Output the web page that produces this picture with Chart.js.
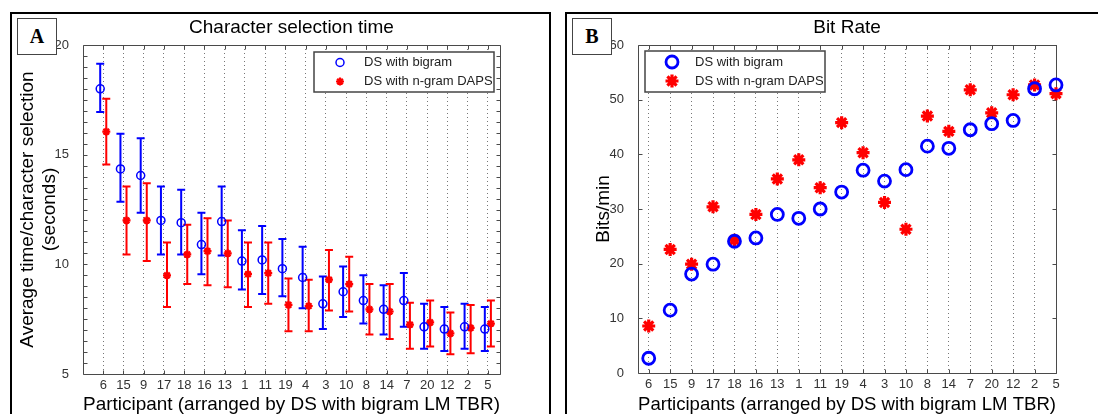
<!DOCTYPE html>
<html>
<head>
<meta charset="utf-8">
<script src="https://cdn.jsdelivr.net/npm/chart.js@4/dist/chart.umd.min.js"></script>
<style>
  body { margin: 0; background: #fff; width: 1098px; height: 414px; overflow: hidden; position: relative;
         font-family: "Liberation Sans", Arial, sans-serif; }
  .frame { position: absolute; border: 2px solid #000; box-sizing: border-box; }
  .tag { position: absolute; border: 1px solid #444; box-sizing: border-box; background: #fff;
         font: bold 20px "Liberation Serif", "Times New Roman", serif; display: flex;
         align-items: center; justify-content: center; z-index: 2; }
  .title { position: absolute; top: 16px; font-size: 19px; line-height: 22px; text-align: center; color: #000; z-index: 2; }
  canvas { position: absolute; top: 0; z-index: 1; }
</style>
</head>
<body>
<div class="frame" style="left:10px; top:12px; width:541px; height:430px;"></div>
<div class="frame" style="left:565px; top:12px; width:560px; height:430px;"></div>
<div class="tag" style="left:17px; top:18px; width:40px; height:37px;">A</div>
<div class="tag" style="left:572px; top:18px; width:40px; height:37px;">B</div>
<div class="title" style="left:83px; width:417px;">Character selection time</div>
<div class="title" style="left:638px; width:418px;">Bit Rate</div>
<canvas id="timeChart" width="550" height="420" style="left:0;"></canvas>
<canvas id="rateChart" width="548" height="420" style="left:550px;"></canvas>
<script>
// participants, ordered by DS with bigram LM TBR
const participants = ['6', '15', '9', '17', '18', '16', '13', '1', '11', '19', '4', '3', '10', '8', '14', '7', '20', '12', '2', '5'];

// panel A: character selection time (seconds), mean with error bar limits
const bigramTime     = [18.0, 14.35, 14.05, 12.0, 11.9, 10.9, 11.95, 10.15, 10.2, 9.8, 9.4, 8.2, 8.75, 8.35, 7.95, 8.35, 7.15, 7.05, 7.15, 7.05];
const bigramTimeLow  = [16.95, 12.85, 12.35, 10.45, 10.45, 9.55, 10.4, 8.85, 8.65, 8.55, 8.0, 7.05, 7.6, 7.3, 6.8, 7.15, 6.15, 6.05, 6.15, 6.05];
const bigramTimeHigh = [19.15, 15.95, 15.75, 13.55, 13.4, 12.35, 13.55, 11.55, 11.75, 11.15, 10.8, 9.45, 9.9, 9.5, 9.05, 9.6, 8.2, 8.05, 8.2, 8.05];
const dapsTime       = [16.05, 12.0, 12.0, 9.5, 10.45, 10.6, 10.5, 9.55, 9.6, 8.15, 8.1, 9.3, 9.1, 7.95, 7.85, 7.25, 7.35, 6.85, 7.1, 7.3];
const dapsTimeLow    = [14.55, 10.45, 10.15, 8.05, 9.1, 9.05, 8.95, 8.05, 8.2, 6.95, 6.95, 7.9, 7.85, 6.8, 6.6, 6.15, 6.25, 5.9, 5.95, 6.25];
const dapsTimeHigh   = [17.55, 13.55, 13.7, 11.0, 11.8, 12.1, 12.0, 11.0, 11.0, 9.35, 9.3, 10.65, 10.35, 9.1, 9.1, 8.25, 8.35, 7.8, 8.15, 8.35];

// panel B: bit rate (bits/min)
const bigramRate = [2.7, 11.5, 18.1, 19.9, 24.1, 24.7, 29.0, 28.3, 30.0, 33.1, 37.1, 35.1, 37.2, 41.5, 41.1, 44.5, 45.6, 46.2, 52.0, 52.7];
const dapsRate   = [8.6, 22.6, 19.9, 30.4, 24.3, 29.0, 35.5, 39.0, 33.9, 45.8, 40.3, 31.2, 26.3, 47.0, 44.2, 51.8, 47.6, 50.9, 52.7, 51.1];

const seriesNames = ['DS with bigram', 'DS with n-gram DAPS'];
const yTicksTime = [5, 10, 15, 20];
const yTicksRate = [0, 10, 20, 30, 40, 50, 60];

const BLUE = '#0000ff', RED = '#ff0000';
const FONT = '"Liberation Sans", Arial, sans-serif';

function drawMarker(ctx, style, x, y, r, w, color) {
  ctx.save();
  ctx.strokeStyle = color;
  ctx.lineWidth = w;
  ctx.beginPath();
  if (style === 'circle') {
    ctx.arc(x, y, r, 0, Math.PI * 2);
  } else {
    for (let k = 0; k < 4; k++) {
      const a = k * Math.PI / 4;
      ctx.moveTo(x - r * Math.cos(a), y - r * Math.sin(a));
      ctx.lineTo(x + r * Math.cos(a), y + r * Math.sin(a));
    }
  }
  ctx.stroke();
  ctx.restore();
}

// box round the plot with inward ticks, like the original
const frame = {
  id: 'frame',
  beforeDatasetsDraw(chart, args, opts) {
    const {ctx, chartArea: a, scales: {x, y}} = chart;
    const L = Math.round(a.left) + 0.5, R = Math.round(a.right) + 0.5;
    const T = Math.round(a.top) + 0.5, B = Math.round(a.bottom) + 0.5;
    ctx.save();
    ctx.strokeStyle = '#4a4a4a';
    ctx.lineWidth = 1;
    ctx.beginPath();
    ctx.rect(L, T, R - L, B - T);
    x.ticks.forEach(t => {
      const px = Math.round(x.getPixelForValue(t.value)) + 0.5;
      ctx.moveTo(px, B); ctx.lineTo(px, B - 4);
      ctx.moveTo(px, T); ctx.lineTo(px, T + 4);
    });
    for (let v = y.min; v <= y.max + 1e-9; v += opts.yStep) {
      const py = Math.round(y.getPixelForValue(v)) + 0.5;
      ctx.moveTo(L, py); ctx.lineTo(L + 4, py);
      ctx.moveTo(R, py); ctx.lineTo(R - 4, py);
    }
    ctx.stroke();
    ctx.restore();
  }
};

const errorBars = {
  id: 'errorBars',
  beforeDatasetsDraw(chart, args, opts) {
    if (!opts.series) return;
    const {ctx, scales: {x, y}} = chart;
    ctx.save();
    ctx.lineWidth = 2;
    opts.series.forEach(s => {
      ctx.strokeStyle = s.color;
      ctx.beginPath();
      s.low.forEach((lo, i) => {
        const px = x.getPixelForValue(i + 1 + s.offset);
        const y0 = y.getPixelForValue(lo), y1 = y.getPixelForValue(s.high[i]);
        ctx.moveTo(px, y0); ctx.lineTo(px, y1);
        ctx.moveTo(px - opts.cap, y0); ctx.lineTo(px + opts.cap, y0);
        ctx.moveTo(px - opts.cap, y1); ctx.lineTo(px + opts.cap, y1);
      });
      ctx.stroke();
    });
    ctx.restore();
  }
};

const boxLegend = {
  id: 'boxLegend',
  afterDraw(chart, args, o) {
    const ctx = chart.ctx;
    ctx.save();
    ctx.fillStyle = '#fff';
    ctx.fillRect(o.x, o.y, o.w, o.h);
    ctx.strokeStyle = '#444';
    ctx.lineWidth = 1.5;
    ctx.strokeRect(o.x, o.y, o.w, o.h);
    ctx.font = '13px ' + FONT;
    ctx.textBaseline = 'middle';
    chart.data.datasets.forEach((ds, i) => {
      const cy = o.y + o.rowTop + i * o.rowGap;
      drawMarker(ctx, ds.pointStyle, o.x + o.markerX, cy, ds.pointRadius, ds.borderWidth, ds.borderColor);
      ctx.fillStyle = '#222';
      ctx.fillText(ds.label, o.x + o.textX, cy);
    });
    ctx.restore();
  }
};

function categoryAxis(min, max, fitHeight, title, titlePad) {
  return {
    type: 'linear', min: min, max: max,
    afterBuildTicks: axis => { axis.ticks = participants.map((p, i) => ({ value: i + 1 })); },
    afterFit: s => { s.height = fitHeight; },
    ticks: { callback: (v, i) => participants[i], autoSkip: false, maxRotation: 0,
             color: '#333', padding: 4, font: { family: FONT, size: 13 } },
    grid: { color: '#777', lineWidth: 1, drawTicks: false },
    border: { display: false, dash: [1, 3] },
    title: { display: true, text: title, color: '#000', padding: { top: 0, bottom: titlePad },
             font: { family: FONT, size: 19, lineHeight: 1.15 } }
  };
}

function valueAxis(min, max, tickValues, fitWidth, title) {
  return {
    min: min, max: max,
    afterBuildTicks: axis => { axis.ticks = tickValues.map(v => ({ value: v })); },
    afterFit: s => { s.width = fitWidth; },
    ticks: { color: '#333', padding: 6, font: { family: FONT, size: 13 } },
    grid: { display: false },
    border: { display: false },
    title: { display: true, text: title, color: '#000', padding: 0,
             font: { family: FONT, size: 19, lineHeight: 1.15 } }
  };
}

const offset = 0.15;

new Chart(document.getElementById('timeChart'), {
  type: 'scatter',
  data: {
    datasets: [
      { label: seriesNames[0], data: bigramTime.map((v, i) => ({ x: i + 1 - offset, y: v })),
        pointStyle: 'circle', pointRadius: 4, borderWidth: 1.5, borderColor: BLUE, backgroundColor: 'rgba(0,0,0,0)', clip: false },
      { label: seriesNames[1], data: dapsTime.map((v, i) => ({ x: i + 1 + offset, y: v })),
        pointStyle: 'star', pointRadius: 4, borderWidth: 2.2, borderColor: RED, backgroundColor: RED, clip: false }
    ]
  },
  options: {
    responsive: false, animation: false, devicePixelRatio: 1, events: [],
    layout: { padding: { left: 17, top: 45, right: 50, bottom: 0 } },
    scales: {
      x: categoryAxis(0, 20.6, 46, 'Participant (arranged by DS with bigram LM TBR)', 4),
      y: valueAxis(5, 20, yTicksTime, 66, ['Average time/character selection', '(seconds)'])
    },
    plugins: {
      legend: { display: false }, tooltip: { enabled: false },
      frame: { yStep: 0.5 },
      errorBars: { cap: 4, series: [
        { color: BLUE, offset: -offset, low: bigramTimeLow, high: bigramTimeHigh },
        { color: RED, offset: offset, low: dapsTimeLow, high: dapsTimeHigh }
      ] },
      boxLegend: { x: 314, y: 52, w: 180, h: 40, markerX: 26, textX: 50, rowTop: 10.5, rowGap: 19 }
    }
  },
  plugins: [frame, errorBars, boxLegend]
});

new Chart(document.getElementById('rateChart'), {
  type: 'scatter',
  data: {
    datasets: [
      { label: seriesNames[0], data: bigramRate.map((v, i) => ({ x: i + 1, y: v })),
        pointStyle: 'circle', pointRadius: 6, borderWidth: 2.8, borderColor: BLUE, backgroundColor: 'rgba(0,0,0,0)', clip: false },
      { label: seriesNames[1], data: dapsRate.map((v, i) => ({ x: i + 1, y: v })),
        pointStyle: 'star', pointRadius: 6.5, borderWidth: 3.2, borderColor: RED, backgroundColor: RED, clip: false }
    ]
  },
  options: {
    responsive: false, animation: false, devicePixelRatio: 1, events: [],
    layout: { padding: { left: 43, top: 45, right: 42, bottom: 0 } },
    scales: {
      x: categoryAxis(0.5, 20, 47, 'Participants (arranged by DS with bigram LM TBR)', 4),
      y: valueAxis(0, 60, yTicksRate, 45, 'Bits/min')
    },
    plugins: {
      legend: { display: false }, tooltip: { enabled: false },
      frame: { yStep: 10 },
      boxLegend: { x: 95, y: 51, w: 180, h: 41, markerX: 27, textX: 50, rowTop: 11, rowGap: 19 }
    }
  },
  plugins: [frame, boxLegend]
});
</script>
</body>
</html>
